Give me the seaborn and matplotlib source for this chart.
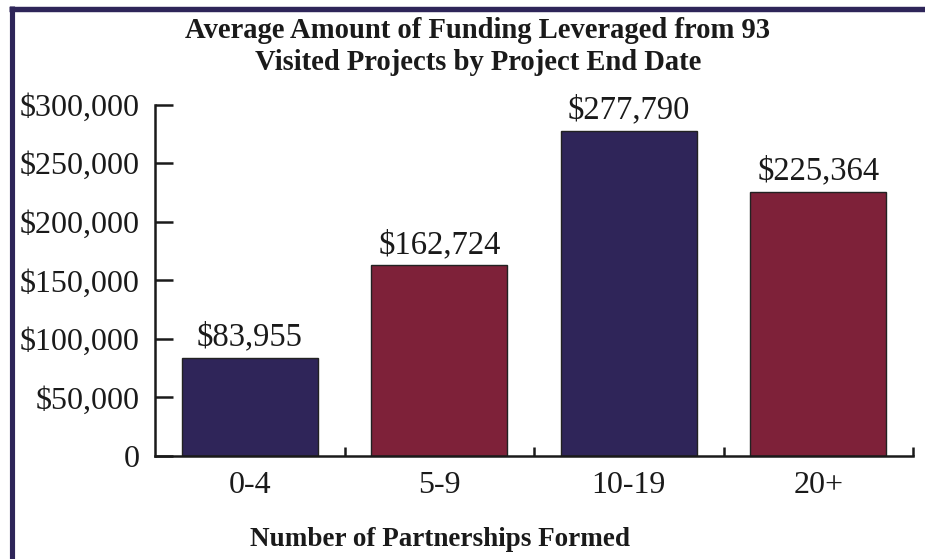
import matplotlib
matplotlib.use("Agg")
import matplotlib.pyplot as plt
from matplotlib.lines import Line2D
from matplotlib.ticker import FixedLocator, FuncFormatter
import seaborn as sns
import pandas as pd

categories = ["0-4", "5-9", "10-19", "20+"]
values = [83955, 162724, 277790, 225364]
bar_colors = ["#2F2559", "#7E2139", "#2F2559", "#7E2139"]
yticks = [0, 50000, 100000, 150000, 200000, 250000, 300000]
title_lines = ["Average Amount of Funding Leveraged from 93",
               "Visited Projects by Project End Date"]
xlabel = "Number of Partnerships Formed"

sns.set_theme(style="white")
plt.rcParams["font.family"] = ["Liberation Serif", "DejaVu Serif"]

W, H = 925, 559
fig = plt.figure(figsize=(W / 100, H / 100), dpi=100)
ax = fig.add_axes([155 / W, 1 - 456 / H, (913 - 155) / W, (456 - 104.7) / H])

df = pd.DataFrame({"cat": categories, "val": values})
sns.barplot(data=df, x="cat", y="val", hue="cat", palette=bar_colors,
            order=categories, hue_order=categories, legend=False,
            width=0.72, edgecolor="#222222", linewidth=1.0, saturation=1, ax=ax)

ax.set_xlim(-0.5, len(categories) - 0.5)
ax.set_ylim(0, 300000)
ax.set_yticks(yticks)
ax.yaxis.set_major_formatter(FuncFormatter(lambda v, p: "0" if v == 0 else f"${v:,.0f}"))
ax.tick_params(axis="y", direction="in", length=13, width=1.8, pad=11,
               labelsize=23, colors="#1a1a1a", left=True)
ax.tick_params(axis="x", which="major", length=0, pad=11, labelsize=23, colors="#1a1a1a")
ax.xaxis.set_minor_locator(FixedLocator([0.5, 1.5, 2.5, 3.5]))
ax.tick_params(axis="x", which="minor", direction="in", length=6.5, width=1.8,
               bottom=True, color="#1a1a1a")

for s in ["top", "right"]:
    ax.spines[s].set_visible(False)
for s in ["left", "bottom"]:
    ax.spines[s].set_visible(True)
    ax.spines[s].set_linewidth(1.8)
    ax.spines[s].set_color("#1a1a1a")

ax.set_xlabel("")
ax.set_ylabel("")

for i, v in enumerate(values):
    ax.annotate(f"${v:,}", (i, v), xytext=(0, 4), textcoords="offset points",
                ha="center", va="bottom", fontsize=23.5, color="#1a1a1a")

fig.text(478 / W, 1 - 31 / H, title_lines[0], ha="center", va="center", fontsize=20.6,
         fontweight="bold", color="#1a1a1a")
fig.text(478 / W, 1 - 62 / H, title_lines[1], ha="center", va="center", fontsize=20.6,
         fontweight="bold", color="#1a1a1a")
fig.text(440 / W, 1 - 539 / H, xlabel, ha="center", va="center", fontsize=19.5,
         fontweight="bold", color="#1a1a1a")

border = "#2E2559"
fig.add_artist(Line2D([11.5 / W, 11.5 / W], [0, 1 - 6 / H], transform=fig.transFigure,
                      color=border, linewidth=3.7, solid_capstyle="butt"))
fig.add_artist(Line2D([9 / W, 1], [1 - 9 / H, 1 - 9 / H], transform=fig.transFigure,
                      color=border, linewidth=3.9, solid_capstyle="butt"))

fig.savefig("out.png", dpi=100)
